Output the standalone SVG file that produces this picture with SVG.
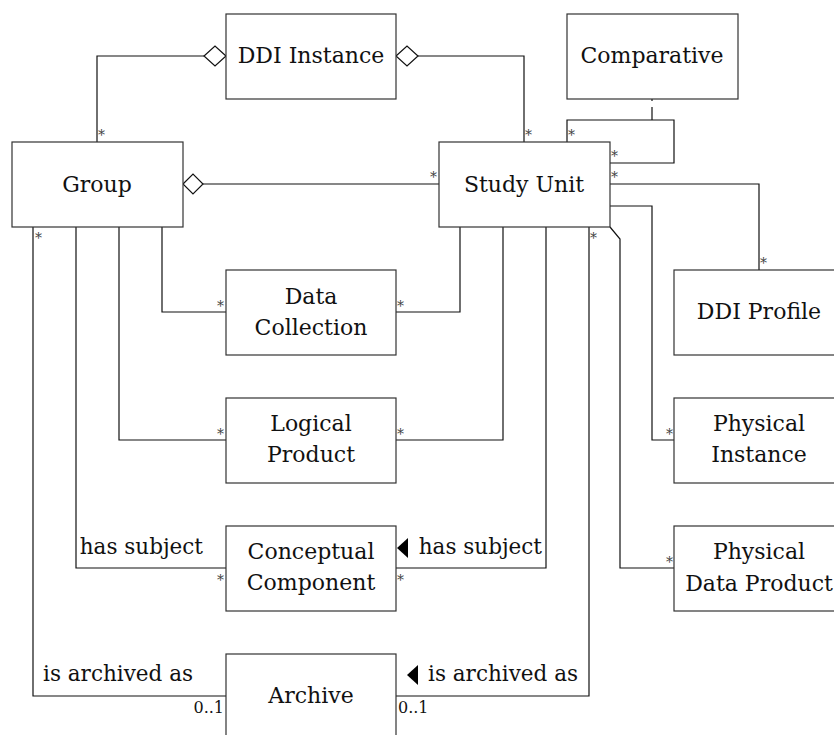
<svg xmlns="http://www.w3.org/2000/svg" width="834" height="735" viewBox="0 0 834 735">
<style>
.box{fill:#fff;stroke:#333;stroke-width:1.2}
.t{font-family:"DejaVu Serif",serif;font-size:22px;fill:#111;text-anchor:middle}
.lbl{font-family:"DejaVu Serif",serif;font-size:21.5px;fill:#111}
.m{font-family:"DejaVu Serif",serif;font-size:14px;fill:#444}
.c{font-family:"DejaVu Serif",serif;font-size:16px;fill:#111}
.ln{fill:none;stroke:#111;stroke-width:1.2}
.dia{fill:#fff;stroke:#111;stroke-width:1.2}
</style>
<rect width="834" height="735" fill="#fff"/>
<g id="connectors">
<path class="ln" d="M204,56 H97 V142"/>
<path class="ln" d="M418,56 H524 V142"/>
<path class="ln" d="M203,184 H439"/>
<path class="ln" d="M652,99 V120" stroke-dasharray="2,6,40"/>
<path class="ln" d="M567,142 V120 H674 V163 H610"/>
<path class="ln" d="M610,184 H759 V270"/>
<path class="ln" d="M610,206 H652 V440 H674"/>
<path class="ln" d="M610,227 L620,239 V568 H674"/>
<path class="ln" d="M460,227 V312 H396"/>
<path class="ln" d="M503,227 V440 H396"/>
<path class="ln" d="M546,227 V568 H396"/>
<path class="ln" d="M589,227 V696 H396"/>
<path class="ln" d="M162,227 V312 H226"/>
<path class="ln" d="M119,227 V440 H226"/>
<path class="ln" d="M76,227 V568 H226"/>
<path class="ln" d="M33,227 V696 H226"/>
<polygon class="dia" points="226,56 215,46 204,56 215,66"/>
<polygon class="dia" points="396,56 407,46 418,56 407,66"/>
<polygon class="dia" points="183,184 193,174 203,184 193,194"/>
<polygon points="397,548 408,538 408,558" fill="#000"/>
<polygon points="407,675 418,665 418,685" fill="#000"/>
<text class="lbl" x="203" y="554" text-anchor="end">has subject</text>
<text class="lbl" x="542" y="554" text-anchor="end">has subject</text>
<text class="lbl" x="193" y="681" text-anchor="end">is archived as</text>
<text class="lbl" x="578" y="681" text-anchor="end">is archived as</text>
<text class="m" x="98" y="140">*</text>
<text class="m" x="525" y="140">*</text>
<text class="m" x="568" y="140">*</text>
<text class="m" x="611" y="161">*</text>
<text class="m" x="611" y="182">*</text>
<text class="m" x="437" y="182" text-anchor="end">*</text>
<text class="m" x="590" y="243">*</text>
<text class="m" x="35" y="243">*</text>
<text class="m" x="224" y="311" text-anchor="end">*</text>
<text class="m" x="397" y="311">*</text>
<text class="m" x="224" y="439" text-anchor="end">*</text>
<text class="m" x="397" y="439">*</text>
<text class="m" x="760" y="268">*</text>
<text class="m" x="673" y="439" text-anchor="end">*</text>
<text class="m" x="224" y="585" text-anchor="end">*</text>
<text class="m" x="397" y="585">*</text>
<text class="m" x="673" y="567" text-anchor="end">*</text>
<text class="c" x="224" y="713" text-anchor="end">0..1</text>
<text class="c" x="398" y="713">0..1</text>
</g>
<g id="ddi-instance"><rect class="box" x="226" y="14" width="170" height="85"/><text class="t" x="311" y="63">DDI Instance</text></g>
<g id="comparative"><rect class="box" x="567" y="14" width="171" height="85"/><text class="t" x="652" y="63">Comparative</text></g>
<g id="group"><rect class="box" x="12" y="142" width="171" height="85"/><text class="t" x="97" y="192">Group</text></g>
<g id="study-unit"><rect class="box" x="439" y="142" width="171" height="85"/><text class="t" x="524" y="192">Study Unit</text></g>
<g id="data-collection"><rect class="box" x="226" y="270" width="170" height="85"/><text class="t" x="311" y="304">Data</text><text class="t" x="311" y="335">Collection</text></g>
<g id="logical-product"><rect class="box" x="226" y="398" width="170" height="85"/><text class="t" x="311" y="431">Logical</text><text class="t" x="311" y="462">Product</text></g>
<g id="conceptual-component"><rect class="box" x="226" y="526" width="170" height="85"/><text class="t" x="311" y="559">Conceptual</text><text class="t" x="311" y="590">Component</text></g>
<g id="archive"><rect class="box" x="226" y="654" width="170" height="85"/><text class="t" x="311" y="703">Archive</text></g>
<g id="ddi-profile"><rect class="box" x="674" y="270" width="171" height="85"/><text class="t" x="759" y="319">DDI Profile</text></g>
<g id="physical-instance"><rect class="box" x="674" y="398" width="171" height="85"/><text class="t" x="759" y="431">Physical</text><text class="t" x="759" y="462">Instance</text></g>
<g id="physical-data-product"><rect class="box" x="674" y="526" width="171" height="85"/><text class="t" x="759" y="559">Physical</text><text class="t" x="759" y="591">Data Product</text></g>
</svg>
